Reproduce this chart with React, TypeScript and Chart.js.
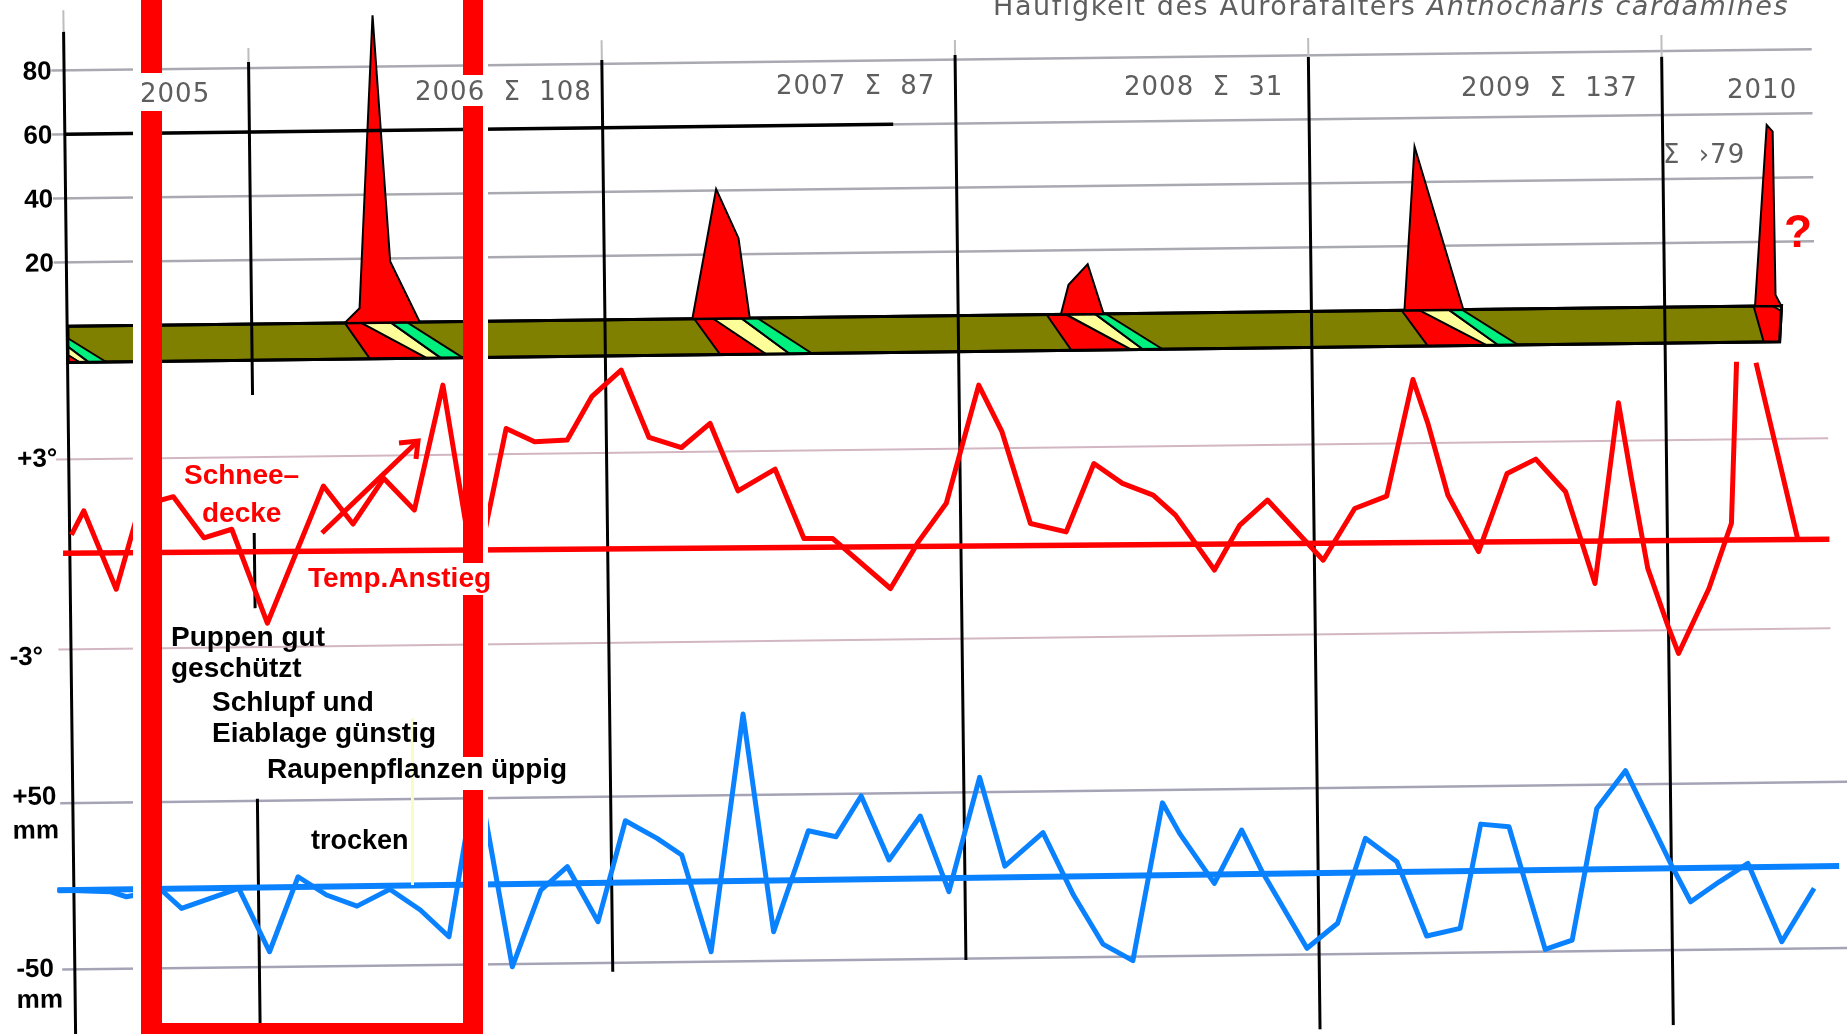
import { useEffect, useRef } from "react";
import { Chart, registerables, type ChartConfiguration, type Plugin } from "chart.js";

Chart.register(...registerables);

type Pt = [number, number | null];

const W = 1847;
const H = 1034;

// x axis: months counted from January 2005 (12 = Jan 2006, 24 = Jan 2007 ...)
const MONTH_RANGE = [3.37, 66.11];
// three panels on one canvas, each with its own value axis
const COUNT_RANGE = [-224.4, 98.75];
const TEMP_RANGE = [-15.47, 17.18];
const RAIN_RANGE = [-95, 526.8];

const COUNT_TICKS = [80, 60, 40, 20];
const TEMP_TICKS = [3, -3];
const RAIN_TICKS = [50, -50];

const YEARS = ["2005", "2006", "2007", "2008", "2009", "2010"];
const YEAR_SUMS = ["", "108", "87", "31", "137", "›79"];

// year dividers (count axis units for their vertical extent)
const DIVIDER_MONTHS = [5.73, 12, 24, 36, 48, 60];
const DIVIDER_TOP = [92, 81.9, 81.2, 81.4, 79.5, 78.2];
const DIVIDER_BOTTOM = [-226, -219, -203.8, -201.4, -226, -227];
const DIVIDER_FADE_TOP = [99.5, 86.3, 87.4, 86.1, 85.4, 85];
const BREAKS_2006 = [[-22.2, -65.3], [-88.8, -148.4]];

const COUNT_GRID_SPAN = [5.3, 65.1];
const BLACK_60_SPAN = [5.75, 33.87];
const TEMP_GRID_SPAN = [5.3, 65.5];
const RAIN_GRID_SPAN = [5.3, 66.0];

// butterflies counted (Anthocharis cardamines), flight peaks
const PEAK_2006: Pt[] = [[15.16, 0], [15.67, 4.5], [16.23, 96], [16.73, 19], [17.71, 0]];
const PEAK_2007: Pt[] = [[26.97, 0], [27.83, 40.4], [28.57, 25], [28.92, 0]];
const PEAK_2008: Pt[] = [[39.49, 0], [39.76, 9.2], [40.42, 15.6], [40.94, 0]];
const PEAK_2009: Pt[] = [[51.16, 0], [51.57, 51.1], [53.16, 0]];
const PEAK_2010: Pt[] = [[63.07, 0], [63.54, 56.5], [63.74, 54.4], [63.77, 3.4], [63.96, 0]];

// season band under the peaks, with the egg / larva / pupa stripes
const BAND: Pt[] = [[5.75, 0], [63.97, 0], [63.89, -11.3], [5.75, -11.3]];
const BAND_DEPTH = -11.3;
const PHASE_TOP = [
  [15.16, 15.71, 16.72, 17.27],
  [27.03, 27.67, 28.63, 29.17],
  [39.0, 39.65, 40.65, 41.01],
  [51.06, 51.66, 52.66, 53.1],
];
const PHASE_BOTTOM = [
  [16.0, 17.94, 18.41, 19.15],
  [27.9, 29.46, 30.26, 31.02],
  [39.83, 41.87, 42.27, 42.93],
  [51.94, 53.95, 54.34, 55.01],
];
const TAIL_2005_GREEN: Pt[] = [[5.75, -3.75], [7.04, -11.3], [6.44, -11.3], [5.75, -6.4]];
const TAIL_2005_YELLOW: Pt[] = [[5.75, -6.4], [6.44, -11.3], [6.14, -11.3], [5.75, -9.0]];
const TAIL_2005_RED: Pt[] = [[5.75, -9.0], [6.14, -11.3], [5.75, -11.3]];
const HEAD_2010_RED: Pt[] = [[63.02, 0], [63.66, 0], [63.96, -1.6], [63.89, -11.3], [63.35, -11.3]];
const HEAD_2010_YELLOW: Pt[] = [[63.66, 0], [63.97, 0], [63.96, -1.6]];

// monthly temperature deviation, °C
const TEMP: Pt[] = [
  [5.79, 0.61], [6.22, 1.37], [7.29, -1.12], [8.13, 1.5], [9.27, 1.78], [10.29, 0.47], [11.24, 0.73],
  [12.41, -2.25], [14.37, 2.06], [15.36, 0.85], [16.42, 2.28], [17.45, 1.27], [18.47, 5.2], [19.48, -0.93],
  [20.6, 3.81], [21.56, 3.38], [22.67, 3.42], [23.52, 4.78],
  [24.53, 5.61], [25.45, 3.47], [26.55, 3.14], [27.53, 3.89], [28.45, 1.75], [29.72, 2.42], [30.67, 0.22],
  [31.65, 0.21], [33.59, -1.39], [34.56, 0.08], [35.52, 1.28],
  [36.67, 5.0], [37.44, 3.52], [38.37, 0.61], [39.58, 0.33], [40.55, 2.48], [41.51, 1.84], [42.55, 1.46],
  [43.3, 0.82], [44.6, -0.93], [45.48, 0.48], [46.43, 1.26], [48.3, -0.66],
  [49.39, 0.96], [50.48, 1.34], [51.42, 5.01], [51.91, 3.62], [52.56, 1.35], [53.58, -0.45], [54.58, 2.01],
  [55.56, 2.45], [56.56, 1.41], [57.52, -1.5], [58.39, 4.2], [58.8, 1.81], [59.32, -1.04],
  [59.99, -2.89], [60.33, -3.74], [61.39, -1.7], [62.18, 0.35], [62.42, 5.45], [62.75, null], [63.08, 5.41],
  [64.42, -0.15],
];
const TEMP_TREND: Pt[] = [[5.5, 0.04], [65.5, -0.19]];

// monthly precipitation deviation, mm
const RAIN: Pt[] = [
  [5.16, -2.2], [6.96, -3.5], [7.51, -6.7], [8.7, -2.9], [9.38, -14.1], [11.33, -2.5],
  [12.35, -40.8], [13.35, 4.1], [14.31, -7.1], [15.34, -14.0], [16.46, -4.1], [17.49, -16.8], [18.45, -33.1],
  [19.47, 67.0], [20.59, -51.6], [21.59, -5.7], [22.5, 8.2], [23.52, -25.1],
  [24.49, 35.4], [25.56, 24.6], [26.39, 14.4], [27.35, -44.0], [28.53, 98.7], [29.48, -32.4], [30.7, 28.1],
  [31.64, 24.3], [32.51, 48.6], [33.43, 9.9], [34.51, 36.1], [35.45, -9.6],
  [36.54, 58.9], [37.36, 5.4], [38.67, 25.2], [39.68, -12.5], [40.66, -42.2], [41.67, -52.4], [42.74, 42.3],
  [43.31, 23.8], [44.47, -6.5], [45.42, 25.4], [46.1, 0.1], [47.59, -46.2],
  [48.64, -31.4], [49.62, 19.5], [50.68, 5.2], [51.66, -39.7], [52.8, -35.3], [53.54, 27.2], [54.5, 25.4],
  [55.68, -48.6], [56.6, -43.2], [57.49, 35.8], [58.48, 58.3],
  [60.03, 0.2], [60.64, -21.0], [61.62, -9.2], [62.6, 1.7], [63.72, -45.7], [64.84, -13.8],
];
const RAIN_TREND: Pt[] = [[5.2, -2.3], [65.7, -0.6]];

const TILT = 0.012; // the scanned sheet is turned slightly

const RED = "#ff0000";
const BLUE = "#0a82ff";
const OLIVE = "#808000";
const YELLOW = "#ffff99";
const GREEN = "#00f080";

const xy = (pts: Pt[]) => pts.map(([x, y]) => ({ x, y }));
const closed = (pts: Pt[]): Pt[] => [...pts, pts[0]];

function layer(pts: Pt[], axis: string, stroke: string, width: number, fill?: string, join = "miter") {
  return {
    data: xy(pts),
    yAxisID: axis,
    borderColor: stroke,
    borderWidth: width,
    borderJoinStyle: join,
    backgroundColor: fill ?? "transparent",
    fill: fill ? "shape" : false,
    pointRadius: 0,
    tension: 0,
    spanGaps: false,
  };
}

function buildDatasets() {
  const stack: any[] = [];
  COUNT_TICKS.forEach(v =>
    stack.push(layer([[COUNT_GRID_SPAN[0], v], [COUNT_GRID_SPAN[1], v]], "yC", "#a9a9b1", 2.5)));
  TEMP_TICKS.forEach(v =>
    stack.push(layer([[TEMP_GRID_SPAN[0], v], [TEMP_GRID_SPAN[1], v]], "yT", "#d2b6c2", 2)));
  RAIN_TICKS.forEach(v =>
    stack.push(layer([[RAIN_GRID_SPAN[0], v], [RAIN_GRID_SPAN[1], v]], "yR", "#a4a4b6", 2.5)));
  DIVIDER_MONTHS.forEach((m, i) =>
    stack.push(layer([[m, DIVIDER_FADE_TOP[i]], [m, DIVIDER_TOP[i]]], "yC", "#bdbdbd", 2)));

  stack.push(layer(closed(BAND), "yC", "#000", 3, OLIVE));
  const colors = [RED, YELLOW, GREEN];
  PHASE_TOP.forEach((top, y) => {
    const bot = PHASE_BOTTOM[y];
    for (let k = 0; k < 3; k++) {
      const poly: Pt[] = [[top[k], 0], [top[k + 1], 0], [bot[k + 1], BAND_DEPTH], [bot[k], BAND_DEPTH]];
      stack.push(layer(closed(poly), "yC", "#000", 2, colors[k]));
    }
  });
  stack.push(layer(closed(TAIL_2005_GREEN), "yC", "#000", 2, GREEN));
  stack.push(layer(closed(TAIL_2005_YELLOW), "yC", "#000", 2, YELLOW));
  stack.push(layer(closed(TAIL_2005_RED), "yC", "#000", 1.5, RED));
  stack.push(layer(closed(HEAD_2010_RED), "yC", "#000", 2, RED));
  stack.push(layer(closed(HEAD_2010_YELLOW), "yC", "#000", 1.5, YELLOW));
  stack.push(layer(closed(BAND), "yC", "#000", 3));

  [PEAK_2006, PEAK_2007, PEAK_2008, PEAK_2009, PEAK_2010].forEach(p =>
    stack.push(layer(closed(p), "yC", "#000", 2, RED)));

  stack.push(layer([[BLACK_60_SPAN[0], 60], [BLACK_60_SPAN[1], 60]], "yC", "#000", 3.5));

  DIVIDER_MONTHS.forEach((m, i) => {
    const pts: Pt[] = [[m, DIVIDER_TOP[i]]];
    if (m === 12) {
      BREAKS_2006.forEach(([a, b]) => { pts.push([m, a], [m, null], [m, b]); });
    }
    pts.push([m, DIVIDER_BOTTOM[i]]);
    stack.push(layer(pts, "yC", "#000", 3));
  });

  stack.push(layer(TEMP_TREND, "yT", RED, 5.5));
  stack.push(layer(RAIN_TREND, "yR", BLUE, 6));
  stack.push(layer(TEMP, "yT", RED, 5, undefined, "round"));
  stack.push(layer(RAIN, "yR", BLUE, 5, undefined, "round"));

  return stack.map((d, i) => ({ ...d, order: stack.length - i }));
}

const tilt: Plugin<"line"> = {
  id: "tilt",
  beforeDraw(chart) {
    const { ctx, width, height } = chart;
    ctx.save();
    ctx.translate(width / 2, height / 2);
    ctx.rotate(-TILT);
    ctx.translate(-width / 2, -height / 2);
  },
  afterDatasetsDraw(chart) {
    const { ctx, scales } = chart;
    ctx.save();
    ctx.font = 'bold 26px "Liberation Sans", Arial, sans-serif';
    ctx.fillStyle = "#000";
    ctx.textBaseline = "alphabetic";
    ctx.textAlign = "right";
    COUNT_TICKS.forEach(v => ctx.fillText(String(v), 57, scales.yC.getPixelForValue(v) + 9));
    ctx.textAlign = "left";
    TEMP_TICKS.forEach(v => {
      const up = v > 0;
      ctx.fillText(`${up ? "+" : "-"}${Math.abs(v)}°`, up ? 18 : 8, scales.yT.getPixelForValue(v) + (up ? 7 : 15));
    });
    RAIN_TICKS.forEach(v => {
      const up = v > 0;
      const y = scales.yR.getPixelForValue(v);
      const x = up ? 9 : 11;
      ctx.fillText(`${up ? "+" : "-"}${Math.abs(v)}`, x, y + (up ? 1 : 7));
      ctx.fillText("mm", x, y + (up ? 35 : 38));
    });
    ctx.restore();
  },
  afterDraw(chart) {
    chart.ctx.restore();
  },
};

function hiddenAxis(range: number[]) {
  return { type: "linear" as const, min: range[0], max: range[1], display: false, bounds: "data" as const };
}

function Txt(props: { x: number; base: number; size: number; color?: string; bold?: boolean; family?: string;
  spacing?: number; words?: number; children: any }) {
  const { x, base, size, color = "#000", bold = true, family = '"Liberation Sans", Arial, sans-serif', spacing = 0, words = 0 } = props;
  return (
    <div style={{
      position: "absolute", left: x, top: base - 0.846 * size, fontSize: size, lineHeight: `${size}px`,
      fontFamily: family, fontWeight: bold ? 700 : 400, color, whiteSpace: "nowrap",
      letterSpacing: spacing, wordSpacing: words,
    }}>{props.children}</div>
  );
}

const box = (left: number, top: number, width: number, height: number, background: string) => (
  <div key={`${left}-${top}-${background}`} style={{ position: "absolute", left, top, width, height, background }} />
);

export default function App() {
  const canvasRef = useRef<HTMLCanvasElement>(null);

  useEffect(() => {
    if (!canvasRef.current) return;
    const config: ChartConfiguration<"line"> = {
      type: "line",
      data: { datasets: buildDatasets() as any },
      options: {
        responsive: false,
        animation: false,
        events: [],
        layout: { padding: 0 },
        plugins: { legend: { display: false }, tooltip: { enabled: false } },
        scales: {
          x: hiddenAxis(MONTH_RANGE),
          yC: hiddenAxis(COUNT_RANGE),
          yT: hiddenAxis(TEMP_RANGE),
          yR: hiddenAxis(RAIN_RANGE),
        },
      },
      plugins: [tilt],
    };
    const chart = new Chart(canvasRef.current, config);
    return () => chart.destroy();
  }, []);

  const scan = '"DejaVu Sans", sans-serif';
  const gray = "#5e5e5e";
  const yearPos = [[140, 102], [415, 100], [776, 94], [1124, 95], [1461, 96], [1727, 98]];

  return (
    <div style={{ position: "fixed", left: 0, top: 0, width: W, height: H, background: "#fff", overflow: "hidden" }}>
      <canvas ref={canvasRef} width={W} height={H} style={{ position: "absolute", left: 0, top: 0 }} />

      <Txt x={993} base={15} size={27} color={gray} bold={false} family={scan} spacing={1.6}>
        Häufigkeit des Aurorafalters <i>Anthocharis cardamines</i>
      </Txt>

      {/* highlight frame around winter 2005/06 */}
      {box(133, 0, 29, H, "#fff")}
      {box(463, 0, 25, H, "#fff")}
      {box(141, 0, 21, 73, RED)}
      {box(141, 111, 21, H - 111, RED)}
      {box(463, 0, 20, 75, RED)}
      {box(463, 106, 20, 457, RED)}
      {box(463, 595, 20, 162, RED)}
      {box(463, 790, 20, H - 790, RED)}
      {box(141, 1023, 342, 11, RED)}
      {box(411, 718, 3, 167, "#fbfbc4")}

      {YEARS.map((y, i) => (
        <Txt key={y} x={yearPos[i][0]} base={yearPos[i][1]} size={26} color={gray} bold={false} family={scan}
          spacing={1} words={9}>
          {i < 5 && YEAR_SUMS[i] ? `${y} Σ ${YEAR_SUMS[i]}` : y}
        </Txt>
      ))}
      <Txt x={1663} base={163} size={26} color={gray} bold={false} family={scan} spacing={1} words={9}>
        {`Σ ${YEAR_SUMS[5]}`}
      </Txt>

      <svg width={W} height={H} style={{ position: "absolute", left: 0, top: 0 }}>
        <path d="M322 533 L418 441" stroke={RED} strokeWidth={5} fill="none" />
        <path d="M399 443 L418 441 L416 459" stroke={RED} strokeWidth={5} fill="none" />
      </svg>

      <Txt x={184} base={485} size={28} color={RED}>Schnee–</Txt>
      <Txt x={202} base={523} size={28} color={RED}>decke</Txt>
      <Txt x={308} base={588} size={28} color={RED}>Temp.Anstieg</Txt>
      <Txt x={171} base={647} size={28}>Puppen gut</Txt>
      <Txt x={171} base={678} size={28}>geschützt</Txt>
      <Txt x={212} base={712} size={28}>Schlupf und</Txt>
      <Txt x={212} base={743} size={28}>Eiablage günstig</Txt>
      <Txt x={267} base={779} size={28}>Raupenpflanzen üppig</Txt>
      <Txt x={311} base={850} size={27}>trocken</Txt>
      <Txt x={1784} base={247} size={46} color={RED}>?</Txt>
    </div>
  );
}
